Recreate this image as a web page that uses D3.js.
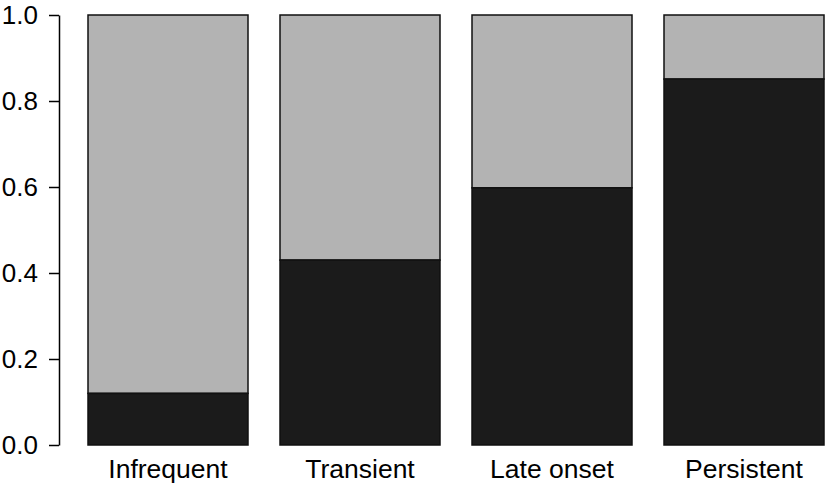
<!DOCTYPE html>
<html>
<head>
<meta charset="utf-8">
<script src="https://cdn.jsdelivr.net/npm/d3@7"></script>
<style>
  body { margin: 0; background: #fff; }
  text { font-family: "Liberation Sans", Arial, sans-serif; }
</style>
</head>
<body>
<div id="chart"></div>
<script>
const categories = ["Infrequent", "Transient", "Late onset", "Persistent"]
const darkValues = [0.12, 0.43, 0.598, 0.851]
const yTicks = [0, 0.2, 0.4, 0.6, 0.8, 1.0]

const width = 826, height = 486

const svg = d3.select("#chart")
    .append("svg")
    .attr("width", width)
    .attr("height", height)

const xScale = d3.scaleBand()
    .domain(categories)
    .range([72, 840])
    .paddingInner(1 / 6)
    .paddingOuter(1 / 12)

const yScale = d3.scaleLinear()
    .domain([0, 1])
    .range([445, 15])

// light (remainder) part of each bar
svg.selectAll(".light")
    .data(categories)
    .enter().append("rect")
    .attr("class", "light")
    .attr("x", d => xScale(d))
    .attr("width", xScale.bandwidth())
    .attr("y", yScale(1))
    .attr("height", (d, i) => yScale(darkValues[i]) - yScale(1))
    .attr("fill", "#b3b3b3")
    .attr("stroke", "#111")
    .attr("stroke-width", 1.5)

// dark part
svg.selectAll(".dark")
    .data(categories)
    .enter().append("rect")
    .attr("class", "dark")
    .attr("x", d => xScale(d))
    .attr("width", xScale.bandwidth())
    .attr("y", (d, i) => yScale(darkValues[i]))
    .attr("height", (d, i) => yScale(0) - yScale(darkValues[i]))
    .attr("fill", "#1b1b1b")
    .attr("stroke", "#111")
    .attr("stroke-width", 1.5)

// y-axis, R style
const yAxis = d3.axisLeft(yScale)
    .tickValues(yTicks)
    .tickFormat(d3.format(".1f"))
    .tickSizeOuter(0)
    .tickSizeInner(10)
    .tickPadding(11)

const gy = svg.append("g")
    .attr("transform", "translate(59,0)")
    .call(yAxis)
gy.select(".domain").attr("stroke", "#000").attr("stroke-width", 1.5)
gy.selectAll(".tick line").attr("stroke", "#000").attr("stroke-width", 1.5)
gy.selectAll(".tick text")
    .attr("font-size", 26)
    .attr("fill", "#000")
    .style("font-family", "'Liberation Sans', Arial, sans-serif")

// category labels
svg.selectAll(".cat")
    .data(categories)
    .enter().append("text")
    .attr("class", "cat")
    .attr("x", d => xScale(d) + xScale.bandwidth() / 2)
    .attr("y", 478)
    .attr("text-anchor", "middle")
    .attr("font-size", 26.5)
    .attr("fill", "#000")
    .text(d => d)
</script>
</body>
</html>
